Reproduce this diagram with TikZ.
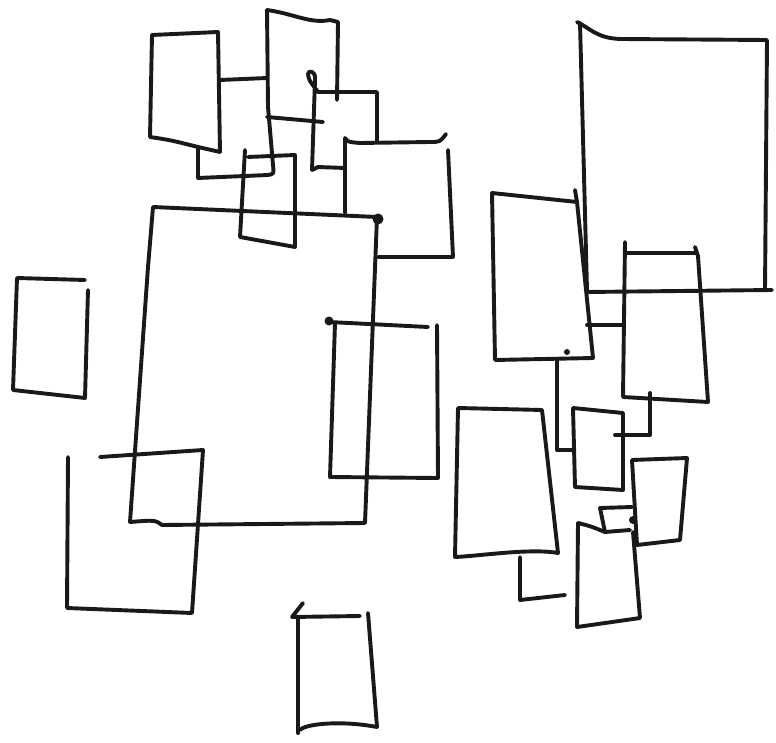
\documentclass[tikz,border=0pt]{standalone}
\begin{document}
\begin{tikzpicture}[x=1pt,y=-1pt,
  pen/.style={draw=black!90,line width=3.9pt,line join=round,line cap=round},
  blob/.style={fill=black!90}]
\useasboundingbox[fill=white] (0,0) rectangle (776,743);
% A
\draw[pen] (152,35) -- (218,32) -- (220,152);
\draw[pen] (152,35) -- (150,137) .. controls (170,140) .. (198,147) -- (220,152);
% B
\draw[pen] (220,80) -- (267,78);
\draw[pen] (198,147) -- (198,178) -- (268,175) .. controls (274,174) .. (273,165) -- (268,107) -- (267,10);
% C
\draw[pen] (267,10) .. controls (295,14) and (310,24) .. (330,20) -- (338,22) -- (337,100);
\draw[pen] (267,117) -- (323,122);
% D
\draw[pen] (312,170) -- (315,80) .. controls (316,70) and (308,70) .. (308,74) .. controls (309,80) .. (315,88) -- (318,92) -- (377,92) -- (377,142);
\draw[pen] (312,170) -- (318,167) -- (345,168);
% E
\draw[pen] (345,213) -- (345,138) .. controls (348,142) .. (360,143) -- (430,142) .. controls (440,142) .. (446,134);
\draw[pen] (448,150) -- (453,257) -- (378,257);
% F
\draw[pen] (245,150) -- (240,237) -- (295,247) -- (295,155) -- (248,157);
% G
\draw[pen] (153,207) -- (377,217) -- (365,523) -- (162,525) .. controls (155,520) .. (130,522) -- (148,267) -- (153,207);
\fill[blob] (378,219) circle (5.5);
% H
\draw[pen] (85,280) -- (17,278) -- (13,390) -- (85,398) -- (88,290);
% I
\draw[pen] (100,457) -- (203,450) -- (192,613) -- (67,608) -- (68,457);
% J
\fill[blob] (329,321) circle (4.5);
\draw[pen] (329,322) -- (428,327);
\draw[pen] (437,325) -- (438,478) -- (330,477) -- (335,323);
% K
\draw[pen] (303,603) -- (292,617) -- (360,616);
\draw[pen] (298,618) -- (298,733);
\draw[pen] (300,730) .. controls (305,724) and (340,720) .. (377,727);
\draw[pen] (368,613) -- (377,727);
% L
\draw[pen] (577,22) .. controls (590,28) and (596,38) .. (620,39) -- (767,40) -- (765,290);
\draw[pen] (587,292) -- (772,290);
\draw[pen] (580,23) -- (587,290);
% M
\draw[pen] (575,190) -- (577,202) -- (492,193) -- (495,360) -- (593,358) -- (577,202);
\fill[blob] (567,352) circle (3);
% N
\draw[pen] (625,242) -- (623,397) -- (708,402) -- (698,256) -- (695,247);
\draw[pen] (625,253) -- (697,253);
\draw[pen] (587,325) -- (623,325);
% M-O link
\draw[pen] (557,360) -- (557,450) -- (573,450);
% O
\draw[pen] (573,408) -- (623,413) -- (623,490) -- (575,487) -- (573,408);
% N-O link
\draw[pen] (650,393) -- (650,435) -- (615,435);
% P
\draw[pen] (458,408) -- (542,410) -- (558,553) .. controls (530,548) and (480,556) .. (455,557) -- (458,408);
% P tail
\draw[pen] (520,557) -- (520,600) -- (565,595);
% Q
\draw[pen] (632,460) -- (687,458) -- (680,540) -- (637,545) -- (632,460);
% R
\draw[pen] (632,507) -- (600,508) -- (605,532) -- (630,530);
\fill[blob] (633,520) circle (4);
% S
\draw[pen] (578,523) .. controls (590,526) .. (605,532);
\draw[pen] (578,523) -- (577,627) -- (640,618) -- (633,532);
\end{tikzpicture}
\end{document}
